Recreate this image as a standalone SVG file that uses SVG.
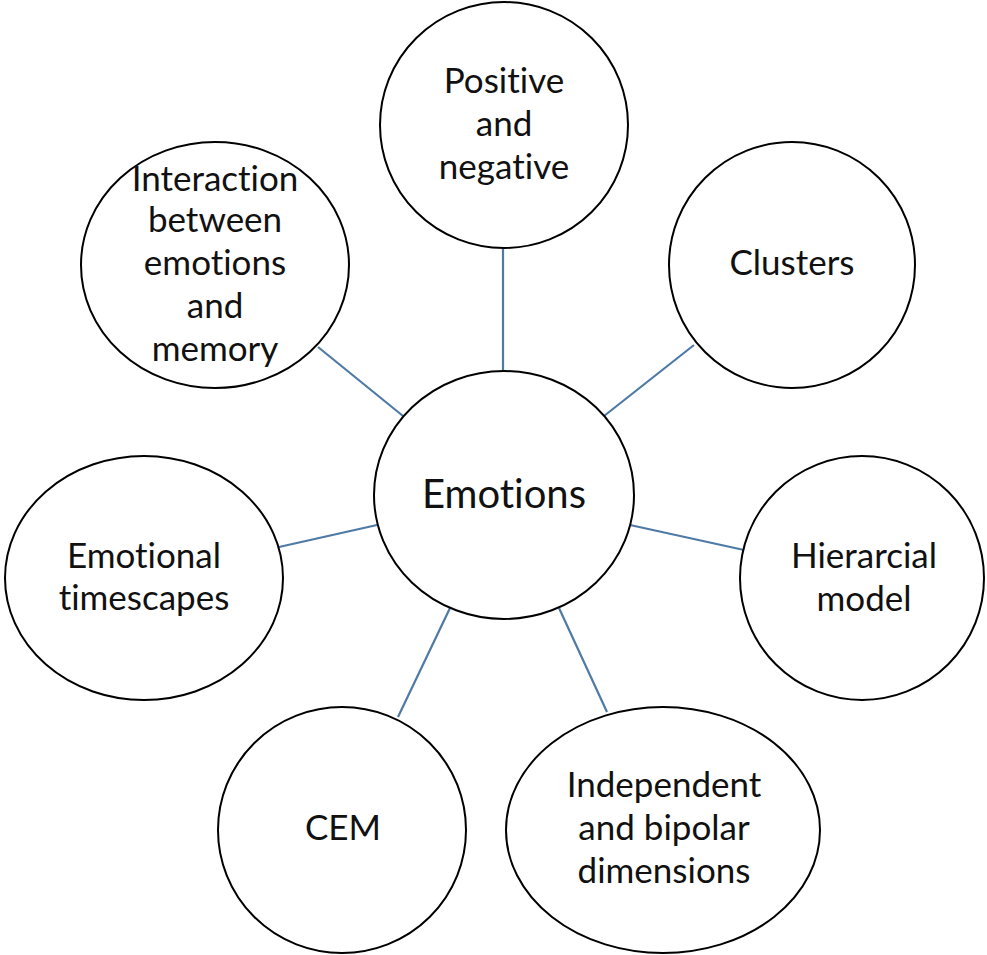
<svg xmlns="http://www.w3.org/2000/svg" width="987" height="955" viewBox="0 0 987 955">
<style>
.n{fill:#fff;stroke:#000;stroke-width:2}
.c{stroke:#4e7aa6;stroke-width:2.2;fill:none}
text{font-family:Lato,"Open Sans",sans-serif;font-size:35px;fill:#111;text-anchor:middle;font-variant-ligatures:none;font-feature-settings:"liga" 0}
.big{font-size:40px}
</style>
<rect width="987" height="955" fill="#fff"/>
<g id="connectors">
<line class="c" x1="503" y1="248" x2="503" y2="372"/>
<line class="c" x1="694" y1="345" x2="604" y2="416"/>
<line class="c" x1="318" y1="347" x2="403" y2="416"/>
<line class="c" x1="279" y1="547" x2="377" y2="525"/>
<line class="c" x1="630" y1="525" x2="744" y2="550"/>
<line class="c" x1="398" y1="717" x2="450" y2="608"/>
<line class="c" x1="559" y1="608" x2="607" y2="712"/>
</g>
<g id="emotions">
<ellipse class="n" cx="504" cy="495" rx="130" ry="124"/>
<text class="big" x="504" y="508">Emotions</text>
</g>
<g id="positive">
<ellipse class="n" cx="504" cy="125" rx="124" ry="123"/>
<text x="504" y="93">Positive</text>
<text x="504" y="136">and</text>
<text x="504" y="179">negative</text>
</g>
<g id="clusters">
<ellipse class="n" cx="792" cy="265" rx="123" ry="123"/>
<text x="792" y="275">Clusters</text>
</g>
<g id="interaction">
<ellipse class="n" cx="215" cy="265" rx="134" ry="123"/>
<text x="215" y="191">Interaction</text>
<text x="215" y="232">between</text>
<text x="215" y="275">emotions</text>
<text x="215" y="318">and</text>
<text x="215" y="361">memory</text>
</g>
<g id="timescapes">
<ellipse class="n" cx="144" cy="578" rx="139" ry="122"/>
<text x="144" y="568">Emotional</text>
<text x="144" y="610">timescapes</text>
</g>
<g id="hierarcial">
<ellipse class="n" cx="862" cy="578" rx="122" ry="122"/>
<text x="864" y="568">Hierarcial</text>
<text x="864" y="611">model</text>
</g>
<g id="cem">
<ellipse class="n" cx="342" cy="830" rx="124" ry="123"/>
<text x="343" y="840">CEM</text>
</g>
<g id="independent">
<ellipse class="n" cx="663" cy="830" rx="157" ry="123"/>
<text x="664" y="797">Independent</text>
<text x="664" y="840">and bipolar</text>
<text x="664" y="883">dimensions</text>
</g>
</svg>
